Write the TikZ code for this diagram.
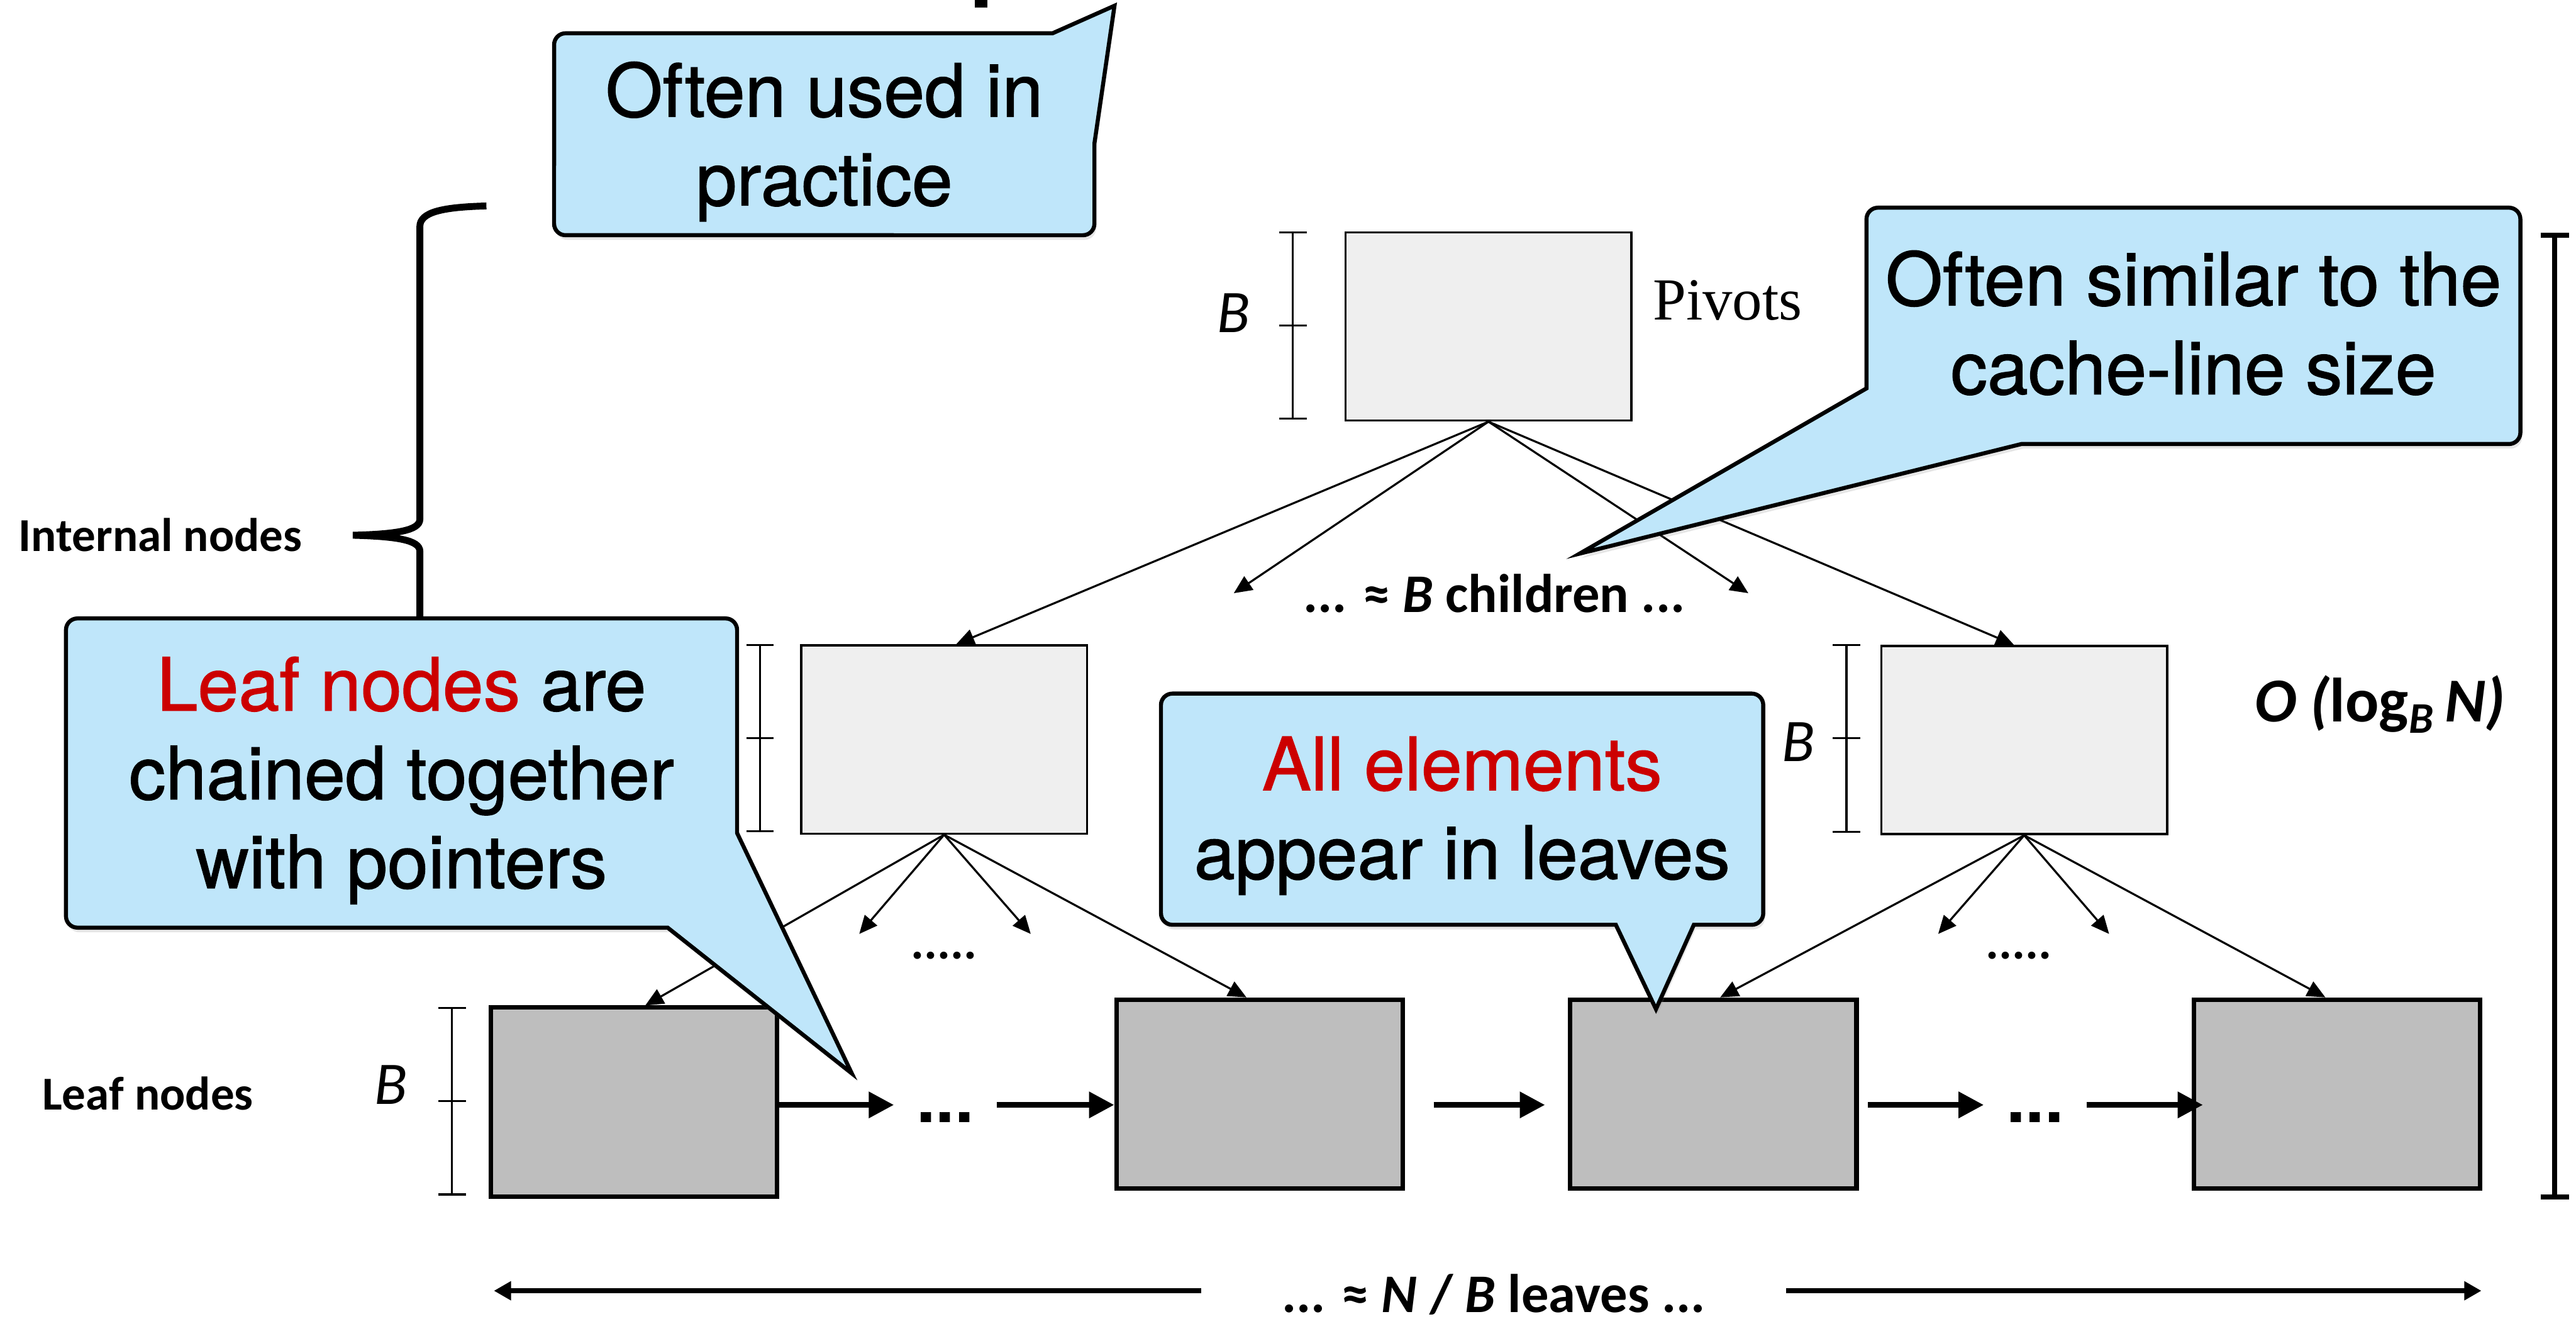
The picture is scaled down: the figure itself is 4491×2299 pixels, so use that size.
\documentclass[tikz,border=0pt]{standalone}
\usepackage{fontspec}
\setmainfont{TeX Gyre Heros}
\newfontfamily\callfont[FakeBold=1.2]{TeX Gyre Heros}
\newfontfamily\calib{Carlito}
\newfontfamily\pivfont{Liberation Serif}
\usetikzlibrary{positioning,arrows.meta,shadows}

\definecolor{tipblue}{RGB}{191,230,250}
\definecolor{alertred}{RGB}{204,0,0}
\definecolor{pivotgray}{RGB}{239,239,239}
\definecolor{leafgray}{RGB}{190,190,190}

\tikzset{
  callout/.style={draw=black, line width=2pt, fill=tipblue, line join=miter,
    drop shadow={opacity=0.2, shadow xshift=0.03cm, shadow yshift=-0.08cm}},
  calltext/.style={font=\callfont\fontsize{36.4}{44}\selectfont, align=center, inner sep=0pt, anchor=base},
  inbox/.style={draw, line width=1.1pt, fill=pivotgray, minimum width=4.98cm, minimum height=3.28cm, inner sep=0pt},
  leaf/.style={draw, line width=2.2pt, fill=leafgray, minimum width=4.99cm, minimum height=3.29cm, inner sep=0pt},
  fan/.style={line width=1pt, -{Triangle[length=9pt,width=8pt]}},
  chain/.style={line width=2.8pt, -{Triangle[length=12.5pt,width=12.5pt]}},
  span/.style={line width=2.5pt, -{Triangle[length=8.5pt,width=9pt]}},
  dimline/.style={line width=1pt},
  brace/.style={line width=3.4pt},
  sidelabel/.style={font=\calib\bfseries\fontsize{23.4}{28}\selectfont, inner sep=0pt, anchor=base west},
  blabel/.style={font=\calib\itshape\fontsize{30}{36}\selectfont, inner sep=0pt},
  gap/.style={font=\bfseries\fontsize{34}{40}\selectfont, inner ysep=0pt, inner xsep=0.39cm, anchor=base},
  fewdots/.style={font=\calib\bfseries\fontsize{24.5}{30}\selectfont, inner sep=0pt, anchor=base},
  bold label/.style={font=\calib\bfseries\fontsize{27}{32}\selectfont, inner sep=0pt, anchor=base}
}

% size bar: x, top, bottom
\newcommand{\sizebar}[3]{%
  \draw[dimline] (#1,#2) -- (#1,#3)
    (#1-24,#2) -- (#1+24,#2)
    (#1-24,{(#2+#3)/2}) -- (#1+24,{(#2+#3)/2})
    (#1-24,#3) -- (#1+24,#3);}

\begin{document}
\begin{tikzpicture}[x=0.01cm, y=-0.01cm]
  \useasboundingbox (0,0) rectangle (4491,2299);

  % cut-off title
  \fill (1699,0) rectangle (1721,13);

  %% tree
  \node[inbox] (root) at (2595,569) {};
  \node[inbox] (midL) at (1646,1289) {};
  \node[inbox] (midR) at (3529,1290) {};
  \node[leaf] (leafA) at (1105,1921) {};
  \node[leaf] (leafB) at (2196,1907) {};
  \node[leaf] (leafC) at (2987,1907) {};
  \node[leaf] (leafD) at (4074,1907) {};

  \sizebar{2254}{405}{730}
  \sizebar{1325}{1124}{1449}
  \sizebar{3219}{1124}{1450}
  \sizebar{788}{1757}{2082}

  \node[blabel] (bRoot) at (2151,546) {B};
  \node[blabel] (bMidR) at (3135,1293) {B};
  \node[blabel] (bLeafA) at (682,1891) {B};
  \node[inner sep=0pt, anchor=base west, font=\pivfont\fontsize{29.6}{34}\selectfont] (pivots) at (2881,557) {Pivots};

  % children of the root
  \coordinate (rootL) at (2151,1034);
  \coordinate (rootR) at (3048,1034);
  \draw[fan] (root.south) -- ([xshift=0.21cm]midL.north);
  \draw[fan] (root.south) -- (rootL);
  \draw[fan] (root.south) -- (rootR);
  \draw[fan] (root.south) -- ([xshift=-0.18cm]midR.north);
  \node[bold label] (kids) at (2605,1067) {... ≈ \textit{B} children ...};

  % children of the inner nodes
  \coordinate (midLl) at (1498,1628);
  \coordinate (midLr) at (1797,1628);
  \coordinate (midRl) at (3379,1628);
  \coordinate (midRr) at (3677,1628);
  \draw[fan] (midL.south) -- ([xshift=0.2cm]leafA.north);
  \draw[fan] (midL.south) -- (midLl);
  \draw[fan] (midL.south) -- (midLr);
  \draw[fan] (midL.south) -- ([xshift=-0.23cm]leafB.north);
  \draw[fan] (midR.south) -- ([xshift=0.12cm]leafC.north);
  \draw[fan] (midR.south) -- (midRl);
  \draw[fan] (midR.south) -- (midRr);
  \draw[fan] (midR.south) -- ([xshift=-0.2cm]leafD.north);
  \node[fewdots] (dotsL) at (1646,1672) {.....};
  \node[fewdots] (dotsR) at (3520,1672) {.....};

  % leaf chain
  \coordinate (chainY) at (0,1926);
  \node[gap] (gapA) at (1648,1957) {...};
  \node[gap] (gapB) at (3548,1957) {...};
  \draw[chain] (leafA.east |- chainY) -- (gapA.west |- chainY);
  \draw[chain] (gapA.east |- chainY) -- (leafB.west |- chainY);
  \draw[chain, shorten <=0.5cm, shorten >=0.4cm] (leafB.east |- chainY) -- (leafC.west |- chainY);
  \draw[chain, shorten <=0.16cm] (leafC.east |- chainY) -- (gapB.west |- chainY);
  \draw[chain, shorten >=-0.2cm] (gapB.east |- chainY) -- (leafD.west |- chainY);

  % number of leaves
  \node[bold label, inner xsep=1.4cm] (leavesTxt) at (2604,2288) {... ≈ \textit{N} / \textit{B} leaves ...};
  \coordinate (spanL) at (861,2250);
  \coordinate (spanR) at (4326,2250);
  \draw[span] (leavesTxt.west |- spanL) -- (spanL);
  \draw[span] (leavesTxt.east |- spanR) -- (spanR);

  % height
  \draw[line width=2.5pt] (4454,410) -- (4454,2086)
    (4429,410) -- (4479,410) (4429,2086) -- (4479,2086);
  \node[inner sep=0pt, anchor=base west, font=\calib\bfseries\fontsize{31}{36}\selectfont] (heightTxt) at (3930,1258)
    {\textit{O (}log\textsubscript{\textit{B}}\,\textit{N)}};

  % left labels
  \node[sidelabel] (internalTxt) at (32,961) {Internal nodes};
  \node[sidelabel] (leafTxt) at (73,1935) {Leaf nodes};
  \draw[brace] (848,359) .. controls (770,361) and (732,370) .. (732,395) -- (732,905)
    .. controls (732,925) and (690,931) .. (615,933)
    .. controls (690,935) and (732,941) .. (732,961) -- (732,1471)
    .. controls (732,1496) and (770,1505) .. (848,1507);

  %% callouts
  \draw[callout] (1835,58) -- (1943,10) -- (1908,250) -- (1908,390)
    arc[start angle=0,end angle=-90,radius=0.2cm] -- (986,410)
    arc[start angle=270,end angle=180,radius=0.2cm] -- (966,78)
    arc[start angle=180,end angle=90,radius=0.2cm] -- cycle;
  \node[calltext] (noteA) at (1437,358) {Often used in\\practice};

  \draw[callout] (3254,677) -- (2754,965) -- (3524,774) -- (4374,774)
    arc[start angle=270,end angle=360,radius=0.2cm] -- (4394,382)
    arc[start angle=0,end angle=90,radius=0.2cm] -- (3274,362)
    arc[start angle=90,end angle=180,radius=0.2cm] -- cycle;
  \node[calltext] (noteB) at (3824,687) {Often similar to the\\cache-line size};

  \draw[callout] (1285,1452) -- (1485,1871) -- (1164,1617) -- (135,1617)
    arc[start angle=270,end angle=180,radius=0.2cm] -- (115,1098)
    arc[start angle=180,end angle=90,radius=0.2cm] -- (1265,1078)
    arc[start angle=90,end angle=0,radius=0.2cm] -- cycle;
  \node[calltext] (noteC) at (700,1548) {\textcolor{alertred}{Leaf nodes} are\\chained together\\with pointers};

  \draw[callout] (2817,1612) -- (2887,1759) -- (2953,1612) -- (3054,1612)
    arc[start angle=270,end angle=360,radius=0.2cm] -- (3074,1229)
    arc[start angle=0,end angle=90,radius=0.2cm] -- (2044,1209)
    arc[start angle=90,end angle=180,radius=0.2cm] -- (2024,1592)
    arc[start angle=180,end angle=270,radius=0.2cm] -- cycle;
  \node[calltext] (noteD) at (2549,1532) {\textcolor{alertred}{All elements}\\appear in leaves};
\end{tikzpicture}
\end{document}
